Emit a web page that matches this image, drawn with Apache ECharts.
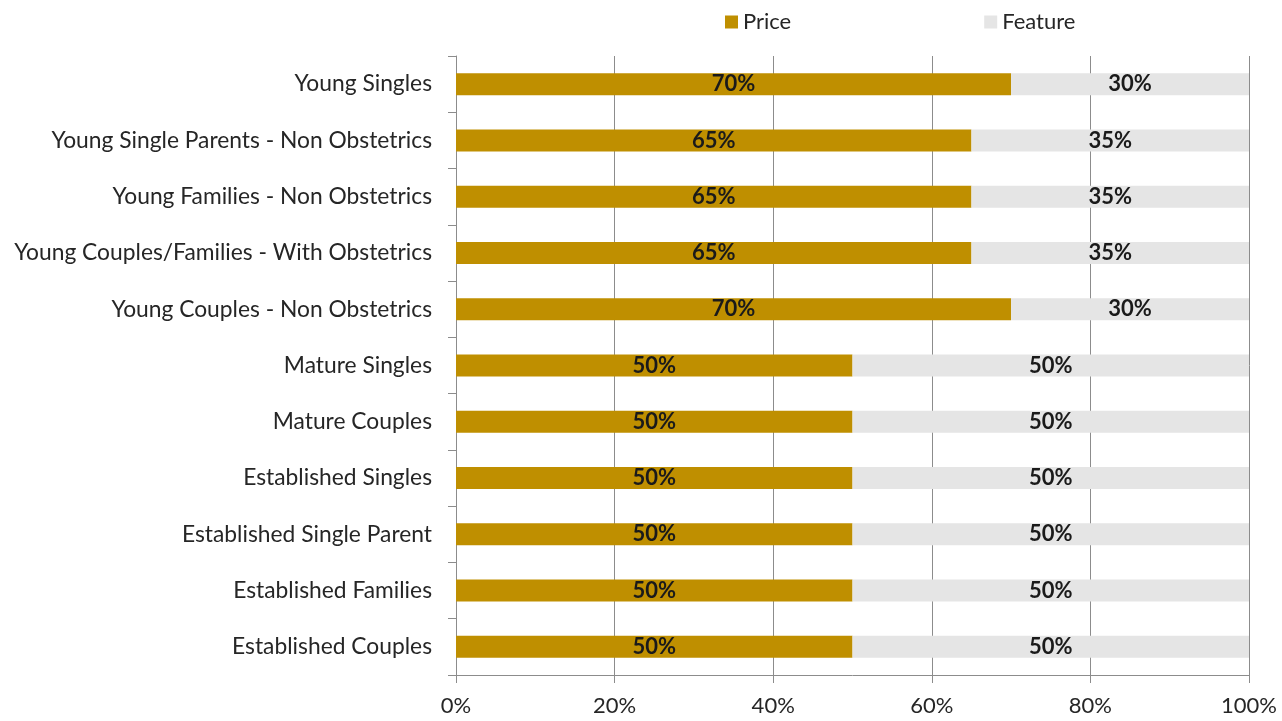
<!DOCTYPE html>
<html>
<head>
<meta charset="utf-8">
<script src="https://cdn.jsdelivr.net/npm/echarts@6/dist/echarts.min.js"></script>
<style>
  html, body { margin: 0; padding: 0; background: #ffffff; }
  #chart { width: 1282px; height: 721px; }
</style>
</head>
<body>
<div id="chart"></div>
<script>
// segments, top to bottom
var segments = [
  'Young Singles',
  'Young Single Parents - Non Obstetrics',
  'Young Families - Non Obstetrics',
  'Young Couples/Families - With Obstetrics',
  'Young Couples - Non Obstetrics',
  'Mature Singles',
  'Mature Couples',
  'Established Singles',
  'Established Single Parent',
  'Established Families',
  'Established Couples'
]
var priceShare = [70, 65, 65, 65, 70, 50, 50, 50, 50, 50, 50]
var featureShare = [30, 35, 35, 35, 30, 50, 50, 50, 50, 50, 50]
var xTicks = [0, 20, 40, 60, 80, 100]

var font = 'Lato, "Open Sans", sans-serif'
var chart = echarts.init(document.getElementById('chart'))

var barLabel = {
  show: true,
  position: 'inside',
  formatter: '{c}%',
  color: '#1a1a1a',
  fontFamily: font,
  fontWeight: 'bold',
  fontSize: 22
}

chart.setOption({
  animation: false,
  textStyle: { fontFamily: font },
  legend: {
    data: ['Price', 'Feature'],
    top: 6,
    left: 720,
    itemWidth: 13,
    itemHeight: 13,
    itemGap: 193,
    icon: 'rect',
    textStyle: { fontSize: 22, color: '#262626', fontFamily: font }
  },
  grid: { left: 456, right: 33, top: 56, bottom: 46, containLabel: false },
  xAxis: {
    type: 'value',
    min: xTicks[0],
    max: xTicks[xTicks.length - 1],
    interval: 20,
    axisLine: { show: true, lineStyle: { color: '#8c8c8c', width: 1 } },
    axisTick: { show: true, length: 8, lineStyle: { color: '#8c8c8c' } },
    splitLine: { show: true, lineStyle: { color: '#8c8c8c', width: 1 } },
    axisLabel: { formatter: '{value}%', fontSize: 22, color: '#262626', margin: 20, fontFamily: font }
  },
  yAxis: {
    type: 'category',
    inverse: true,
    data: segments,
    axisLine: { show: true, lineStyle: { color: '#8c8c8c', width: 1 } },
    axisTick: { show: true, length: 8, lineStyle: { color: '#8c8c8c' } },
    axisLabel: { fontSize: 22.8, color: '#262626', margin: 24, fontFamily: font }
  },
  series: [
    {
      name: 'Price',
      type: 'bar',
      stack: 'total',
      barWidth: 22,
      data: priceShare,
      itemStyle: { color: '#BF8F00' },
      label: barLabel
    },
    {
      name: 'Feature',
      type: 'bar',
      stack: 'total',
      barWidth: 22,
      data: featureShare,
      itemStyle: { color: '#E5E5E5' },
      label: barLabel
    }
  ]
})
</script>
</body>
</html>
